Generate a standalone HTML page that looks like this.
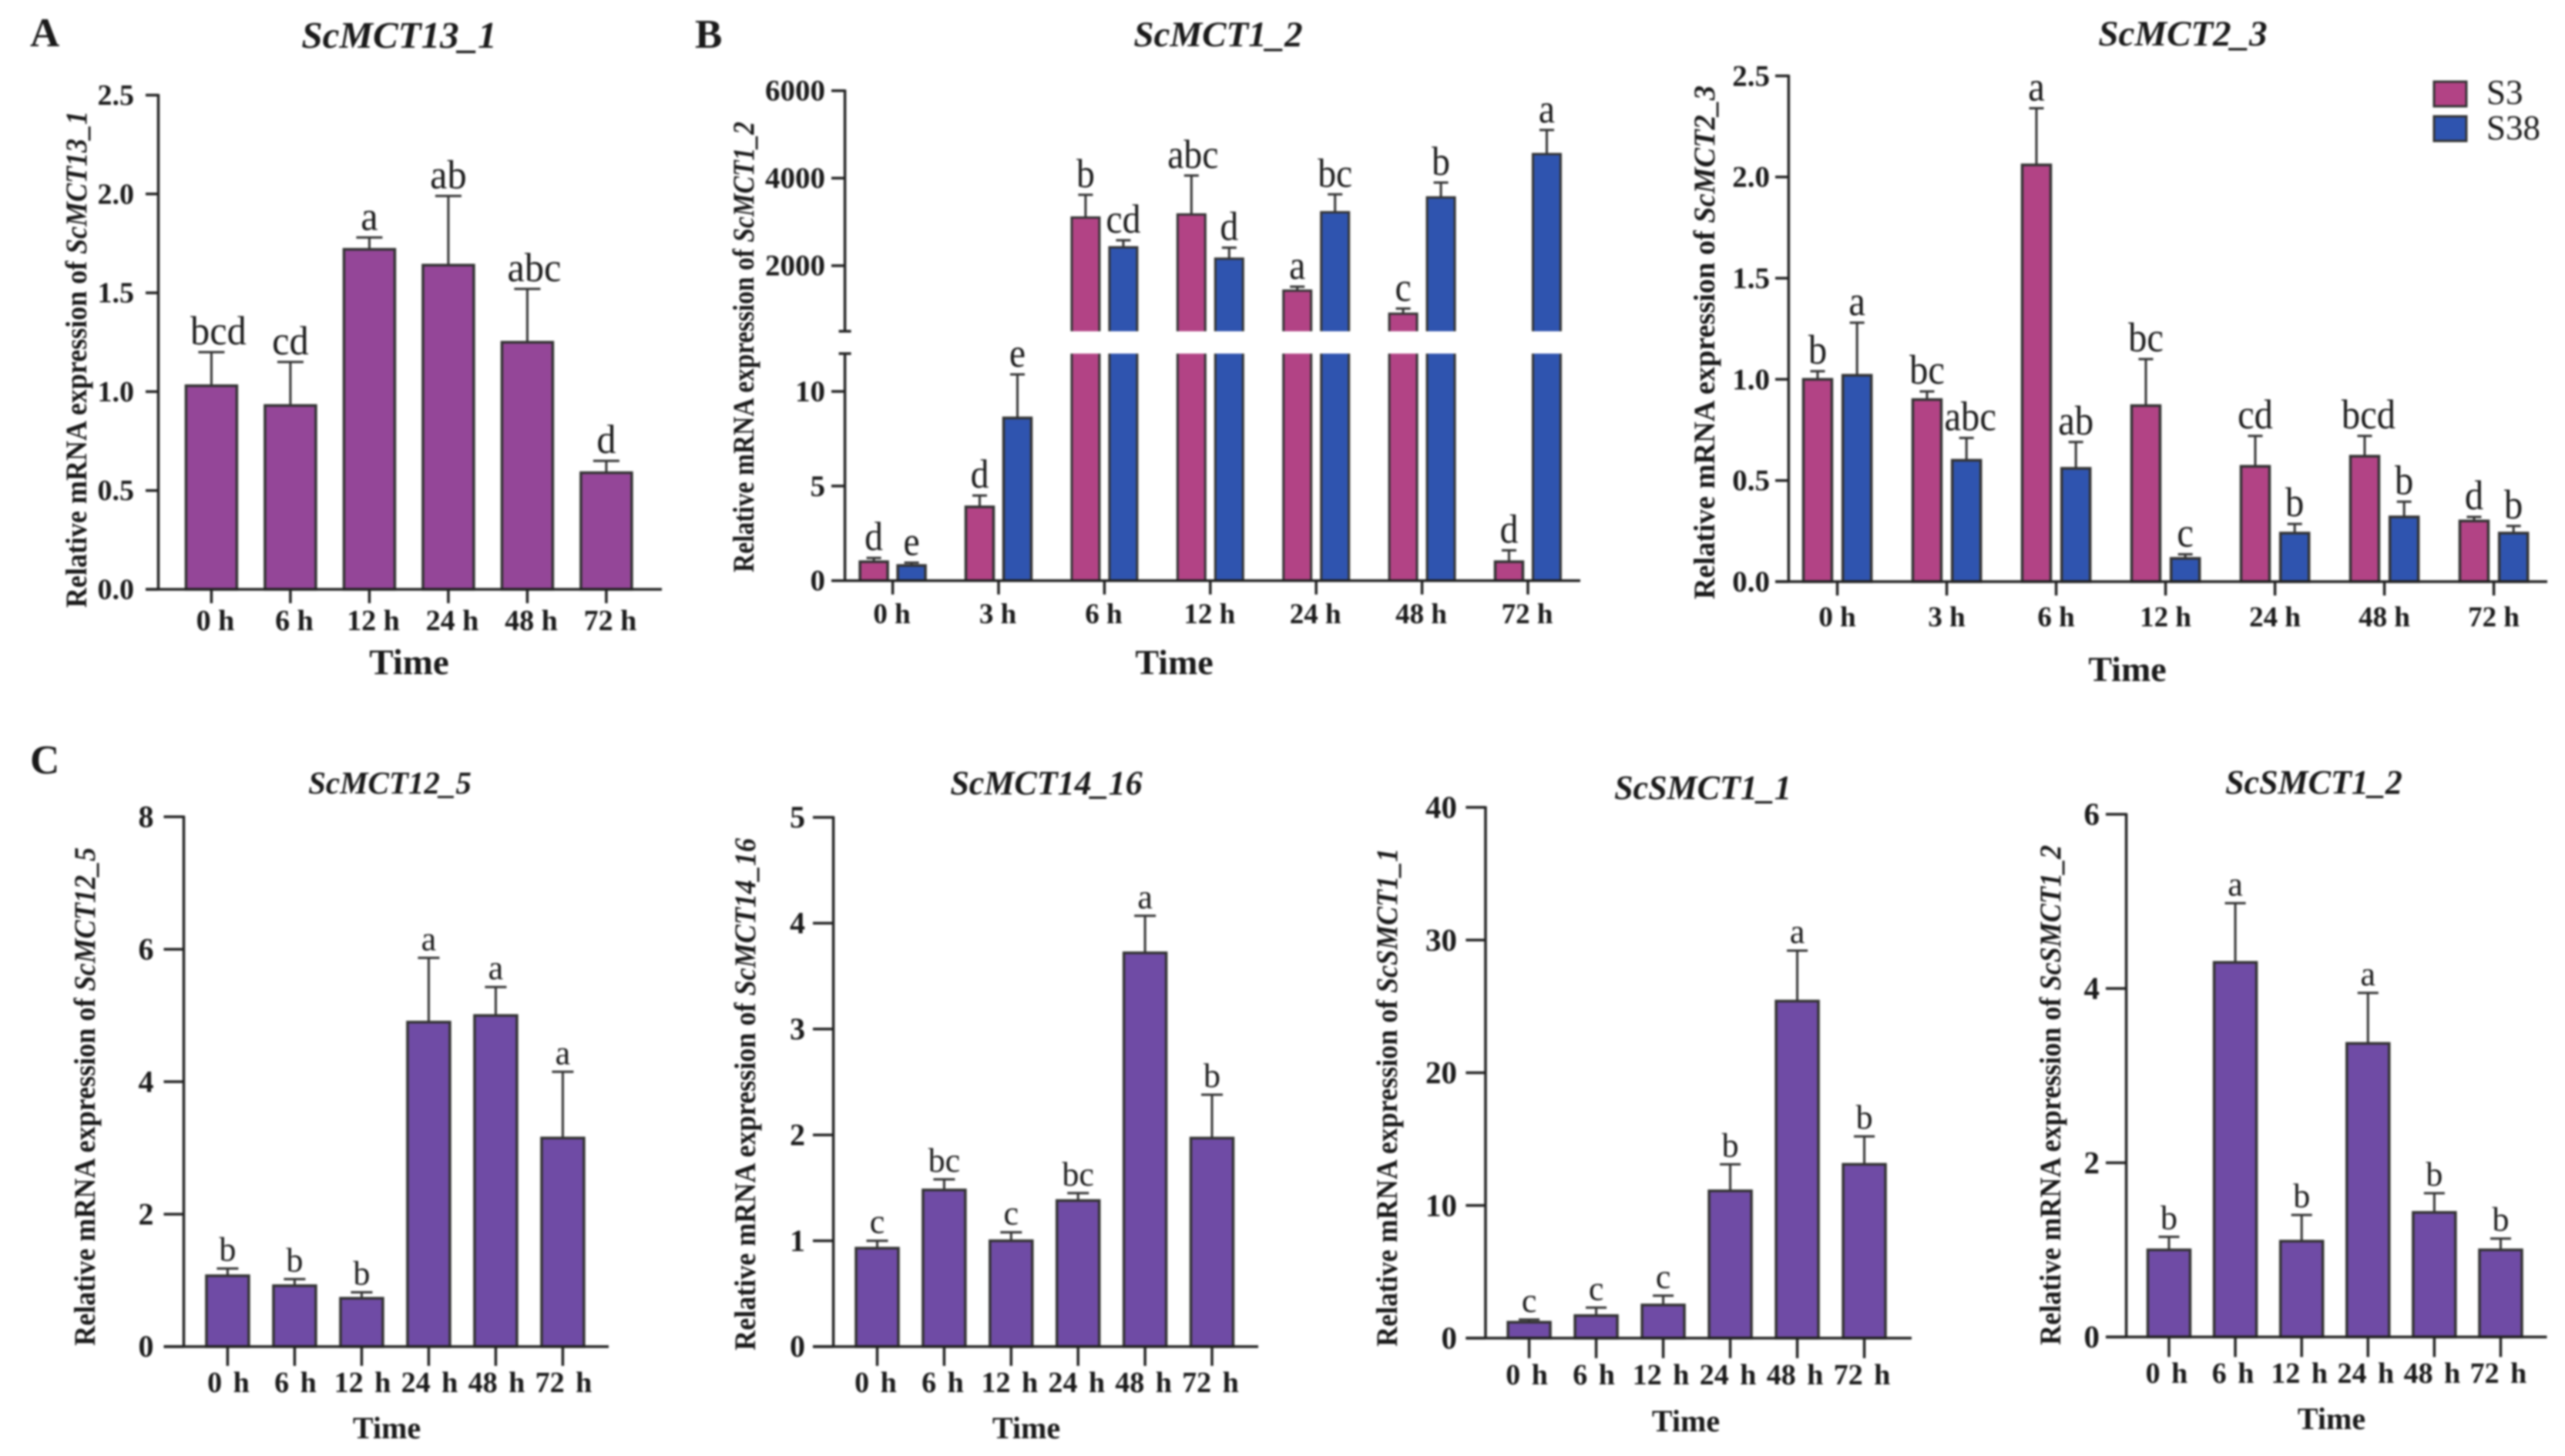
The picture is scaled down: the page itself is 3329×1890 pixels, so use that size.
<!DOCTYPE html>
<html lang="en">
<head>
<meta charset="utf-8">
<title>Relative mRNA expression of ScMCT genes</title>
<style>
html,body{margin:0;padding:0;background:#fff;width:3329px;height:1890px;overflow:hidden}
svg{display:block;filter:blur(1.4px)}
text{font-family:"Liberation Serif",serif;fill:#1a1a1a}
.panel-letter{font-weight:bold;font-size:53px}
.title{font-weight:bold;font-style:italic;text-anchor:middle}
.time{font-weight:bold;text-anchor:middle}
.ylab{font-weight:bold;font-size:39px}
.ylab tspan{font-style:italic}
</style>
</head>
<body>
<svg id="figure" xmlns="http://www.w3.org/2000/svg" width="3329" height="1890" viewBox="0 0 3329 1890">
  <rect width="3329" height="1890" fill="#fff"/>

  <text class="panel-letter" x="39" y="60">A</text>
  <text class="panel-letter" x="902" y="62">B</text>
  <text class="panel-letter" x="39" y="1004">C</text>

  <text class="title" x="518" y="62" font-size="49">ScMCT13_1</text>
  <text class="title" x="1581" y="60" font-size="47">ScMCT1_2</text>
  <text class="title" x="2833" y="59" font-size="47">ScMCT2_3</text>
  <text class="title" x="506" y="1030" font-size="41">ScMCT12_5</text>
  <text class="title" x="1358" y="1031" font-size="44">ScMCT14_16</text>
  <text class="title" x="2210" y="1037" font-size="44">ScSMCT1_1</text>
  <text class="title" x="3003" y="1030" font-size="44">ScSMCT1_2</text>

  <text class="ylab" transform="translate(112,789) rotate(-90)" textLength="645" lengthAdjust="spacingAndGlyphs">Relative mRNA expression of  <tspan>ScMCT13_1</tspan></text>
  <text class="ylab" transform="translate(978,743) rotate(-90)" textLength="585" lengthAdjust="spacingAndGlyphs">Relative mRNA expression of <tspan>ScMCT1_2</tspan></text>
  <text class="ylab" transform="translate(2225,778) rotate(-90)" textLength="667" lengthAdjust="spacingAndGlyphs">Relative mRNA expression of <tspan>ScMCT2_3</tspan></text>
  <text class="ylab" transform="translate(123,1747) rotate(-90)" textLength="647" lengthAdjust="spacingAndGlyphs">Relative mRNA expression of <tspan>ScMCT12_5</tspan></text>
  <text class="ylab" transform="translate(980,1753) rotate(-90)" textLength="665" lengthAdjust="spacingAndGlyphs">Relative mRNA expression of <tspan>ScMCT14_16</tspan></text>
  <text class="ylab" transform="translate(1813,1748) rotate(-90)" textLength="647" lengthAdjust="spacingAndGlyphs">Relative mRNA expression of <tspan>ScSMCT1_1</tspan></text>
  <text class="ylab" transform="translate(2674,1746) rotate(-90)" textLength="649" lengthAdjust="spacingAndGlyphs">Relative mRNA expression of <tspan>ScSMCT1_2</tspan></text>

  <text class="time" x="531" y="875" font-size="47">Time</text>
  <text class="time" x="1524" y="875" font-size="46">Time</text>
  <text class="time" x="2761" y="884" font-size="46">Time</text>
  <text class="time" x="502" y="1867" font-size="40">Time</text>
  <text class="time" x="1332" y="1867" font-size="40">Time</text>
  <text class="time" x="2188" y="1858" font-size="40">Time</text>
  <text class="time" x="3026" y="1855" font-size="40">Time</text>

  <g>
    <rect x="3159" y="106" width="42" height="32" fill="#B24385" stroke="#333" stroke-width="3"/>
    <text x="3227" y="135" font-size="45">S3</text>
    <rect x="3159" y="151" width="42" height="32" fill="#2F54AF" stroke="#333" stroke-width="3"/>
    <text x="3227" y="181" font-size="45">S38</text>
  </g>
</svg>

<script>
// ---- categories ----
const catsSix = ['0 h', '6 h', '12 h', '24 h', '48 h', '72 h'];
const catsSeven = ['0 h', '3 h', '6 h', '12 h', '24 h', '48 h', '72 h'];

// ---- ScMCT13_1 ----
const mct13Values = [1.03, 0.93, 1.72, 1.64, 1.25, 0.59];
const mct13ErrTops = [1.20, 1.15, 1.78, 1.99, 1.52, 0.65];
const mct13Letters = ['bcd', 'cd', 'a', 'ab', 'abc', 'd'];
const mct13Ticks = ['0.0', '0.5', '1.0', '1.5', '2.0', '2.5'];

// ---- ScMCT1_2 (broken axis) ----
const mct1S3Values = [1.0, 3.9, 3100, 3170, 1430, 900, 1.0];
const mct1S3ErrTops = [1.2, 4.5, 3620, 4060, 1520, 1020, 1.6];
const mct1S3Letters = ['d', 'd', 'b', 'abc', 'a', 'c', 'd'];
const mct1S38Values = [0.8, 8.6, 2420, 2160, 3220, 3560, 4550];
const mct1S38ErrTops = [0.95, 10.9, 2580, 2410, 3630, 3900, 5100];
const mct1S38Letters = ['e', 'e', 'cd', 'd', 'bc', 'b', 'a'];
const mct1Ticks = ['0', '5', '10', '2000', '4000', '6000'];

// ---- ScMCT2_3 ----
const mct2S3Values = [1.0, 0.9, 2.06, 0.87, 0.57, 0.62, 0.30];
const mct2S3ErrTops = [1.04, 0.94, 2.34, 1.10, 0.72, 0.72, 0.32];
const mct2S3Letters = ['b', 'bc', 'a', 'bc', 'cd', 'bcd', 'd'];
const mct2S38Values = [1.02, 0.60, 0.56, 0.115, 0.24, 0.32, 0.24];
const mct2S38ErrTops = [1.28, 0.71, 0.69, 0.135, 0.285, 0.395, 0.275];
const mct2S38Letters = ['a', 'abc', 'ab', 'c', 'b', 'b', 'b'];
const mct2Ticks = ['0.0', '0.5', '1.0', '1.5', '2.0', '2.5'];

// ---- ScMCT12_5 ----
const mct12Values = [1.07, 0.92, 0.73, 4.90, 5.00, 3.15];
const mct12ErrTops = [1.18, 1.02, 0.82, 5.87, 5.43, 4.15];
const mct12Letters = ['b', 'b', 'b', 'a', 'a', 'a'];
const mct12Ticks = ['0', '2', '4', '6', '8'];

// ---- ScMCT14_16 ----
const mct14Values = [0.93, 1.48, 1.00, 1.38, 3.72, 1.97];
const mct14ErrTops = [1.00, 1.58, 1.08, 1.45, 4.07, 2.38];
const mct14Letters = ['c', 'bc', 'c', 'bc', 'a', 'b'];
const mct14Ticks = ['0', '1', '2', '3', '4', '5'];

// ---- ScSMCT1_1 ----
const smct1Values = [1.2, 1.7, 2.5, 11.1, 25.4, 13.1];
const smct1ErrTops = [1.4, 2.3, 3.2, 13.1, 29.2, 15.2];
const smct1Letters = ['c', 'c', 'c', 'b', 'a', 'b'];
const smct1Ticks = ['0', '10', '20', '30', '40'];

// ---- ScSMCT1_2 ----
const smct2Values = [1.00, 4.30, 1.10, 3.37, 1.43, 1.00];
const smct2ErrTops = [1.15, 4.98, 1.40, 3.95, 1.65, 1.13];
const smct2Letters = ['b', 'a', 'b', 'a', 'b', 'b'];
const smct2Ticks = ['0', '2', '4', '6'];

const SVGNS = 'http://www.w3.org/2000/svg';
const figure = document.getElementById('figure');

function make(tag, parent, attrs) {
  const node = document.createElementNS(SVGNS, tag);
  for (const key in attrs) node.setAttribute(key, attrs[key]);
  parent.appendChild(node);
  return node;
}

function linear(d0, d1, r0, r1) {
  return function (v) { return r0 + (v - d0) * (r1 - r0) / (d1 - d0); };
}

function drawBar(g, x, w, v, y, base, color, brk, slug) {
  const left = x - w / 2;
  const right = x + w / 2;
  if (brk && v > brk.maxLow) {
    const upper = make('rect', g, { x: left, y: y(v), width: w, height: brk.yUpperEnd - y(v), fill: color });
    
    
    const upperEdge = make('path', g, { d: 'M' + left + ' ' + brk.yUpperEnd + 'V' + y(v) + 'H' + right + 'V' + brk.yUpperEnd, fill: 'none', stroke: '#333', 'stroke-width': 3 });
    
    
    const lower = make('rect', g, { x: left, y: brk.yLowerTop, width: w, height: base - brk.yLowerTop, fill: color });
    
    
    const lowerEdge = make('path', g, { d: 'M' + left + ' ' + brk.yLowerTop + 'V' + base + 'M' + right + ' ' + brk.yLowerTop + 'V' + base, fill: 'none', stroke: '#333', 'stroke-width': 3 });
    
    
  } else {
    const bar = make('rect', g, { x: left, y: y(v), width: w, height: base - y(v), fill: color, stroke: '#333', 'stroke-width': 3.5 });
    
    
  }
}

function drawPanel(cfg) {
  const g = make('g', figure, {});
  
  
  const xPos = function (i) { return cfg.x0 + i * cfg.step; };

  cfg.series.forEach(function (s) {
    s.values.forEach(function (v, i) {
      const slug = cfg.name + '-' + s.name + '-' + cfg.cats[i].replace(' ', '');
      const cx = xPos(i) + s.offset;
      const capY = cfg.y(s.errTops[i]);
      const stem = make('line', g, { x1: cx, x2: cx, y1: cfg.y(v), y2: capY, stroke: '#333', 'stroke-width': 3 });
      
      
      const cap = make('line', g, { x1: cx - cfg.capW / 2, x2: cx + cfg.capW / 2, y1: capY, y2: capY, stroke: '#333', 'stroke-width': 3 });
      
      
      drawBar(g, cx, cfg.barW, v, cfg.y, cfg.yBase, s.color, cfg.brk, slug);
      const word = s.letters[i];
      const nudge = word.length === 3 ? cfg.longLetterNudge : 0;
      const letter = make('text', g, { transform: 'translate(' + (cx + nudge) + ',' + (capY - 10) + ') scale(' + cfg.letterSquash + ',1)', 'text-anchor': 'middle', 'font-size': cfg.letterSize });
      letter.textContent = word;
      
      
    });
  });

  // y axis
  (cfg.brk ? [[cfg.yTop, cfg.brk.yUpperEnd], [cfg.brk.yLowerTop, cfg.yBase]] : [[cfg.yTop, cfg.yBase]]).forEach(function (seg) {
    const axis = make('line', g, { x1: cfg.axisX, x2: cfg.axisX, y1: seg[0] - 1.5, y2: seg[1] + 1.5, stroke: '#222', 'stroke-width': 3.5 });
    
    
  });
  if (cfg.brk) {
    [cfg.brk.yUpperEnd, cfg.brk.yLowerTop].forEach(function (yy) {
      const end = make('line', g, { x1: cfg.axisX - 8, x2: cfg.axisX + 8, y1: yy, y2: yy, stroke: '#222', 'stroke-width': 3.5 });
      
      
    });
  }
  cfg.ticks.forEach(function (label) {
    const ty = cfg.y(Number(label));
    const tick = make('line', g, { x1: cfg.tickLeft, x2: cfg.axisX, y1: ty, y2: ty, stroke: '#222', 'stroke-width': 3.5 });
    
    
    const text = make('text', g, { x: cfg.labelRight, y: ty + cfg.tickSize * 0.33, 'text-anchor': 'end', 'font-size': cfg.tickSize, 'font-weight': 'bold' });
    text.textContent = label;
    
    
  });

  // x axis
  const xAxis = make('line', g, { x1: cfg.tickLeft, x2: cfg.xRight, y1: cfg.yBase, y2: cfg.yBase, stroke: '#222', 'stroke-width': 3.5 });
  
  
  cfg.cats.forEach(function (cat, i) {
    const tick = make('line', g, { x1: xPos(i), x2: xPos(i), y1: cfg.yBase, y2: cfg.yBase + cfg.tickLen, stroke: '#222', 'stroke-width': 3.5 });
    
    
    const text = make('text', g, { x: xPos(i) + cfg.labelDx, y: cfg.labelBase, 'text-anchor': 'middle', 'font-size': cfg.catSize, 'font-weight': 'bold', 'word-spacing': cfg.wordSpacing });
    text.textContent = cat;
    
    
  });
}

const COL_A = '#944698';
const COL_S3 = '#B24385';
const COL_S38 = '#2F54AF';
const COL_C = '#6F4BA5';

drawPanel({
  name: 'scmct13-1', cats: catsSix, ticks: mct13Ticks,
  y: linear(0, 2.5, 765, 123.5), yTop: 123.5, yBase: 765,
  axisX: 205.5, tickLeft: 189, xRight: 859, x0: 274.4, step: 102.5, barW: 66, capW: 34,
  tickLen: 18, labelRight: 174, tickSize: 38, catSize: 38, labelBase: 818, labelDx: 5, wordSpacing: 0,
  letterSize: 53, letterSquash: 0.95, longLetterNudge: 9,
  series: [{ name: 'mean', values: mct13Values, errTops: mct13ErrTops, letters: mct13Letters, color: COL_A, offset: 0 }]
});

const yBLower = linear(0, 12, 753.7, 459);
const yBUpper = linear(500, 6000, 430, 117.7);
drawPanel({
  name: 'scmct1-2', cats: catsSeven, ticks: mct1Ticks,
  y: function (v) { return v <= 12 ? yBLower(v) : yBUpper(v); }, yTop: 117.7, yBase: 753.7,
  brk: { maxLow: 12, yUpperEnd: 430, yLowerTop: 459 },
  axisX: 1096.6, tickLeft: 1079, xRight: 2051, x0: 1158.6, step: 137.4, barW: 36, capW: 19,
  tickLen: 18, labelRight: 1071, tickSize: 39, catSize: 37, labelBase: 809, labelDx: -1, wordSpacing: 0,
  letterSize: 53, letterSquash: 0.9, longLetterNudge: 2,
  series: [
    { name: 's3', values: mct1S3Values, errTops: mct1S3ErrTops, letters: mct1S3Letters, color: COL_S3, offset: -24.5 },
    { name: 's38', values: mct1S38Values, errTops: mct1S38ErrTops, letters: mct1S38Letters, color: COL_S38, offset: 24.5 }
  ]
});

drawPanel({
  name: 'scmct2-3', cats: catsSeven, ticks: mct2Ticks,
  y: linear(0, 2.5, 755, 98.5), yTop: 98.5, yBase: 755,
  axisX: 2321.4, tickLeft: 2304, xRight: 3306, x0: 2384.6, step: 142, barW: 37, capW: 19,
  tickLen: 18, labelRight: 2297, tickSize: 39, catSize: 37, labelBase: 813, labelDx: 0, wordSpacing: 0,
  letterSize: 54, letterSquash: 0.9, longLetterNudge: 5,
  series: [
    { name: 's3', values: mct2S3Values, errTops: mct2S3ErrTops, letters: mct2S3Letters, color: COL_S3, offset: -25.6 },
    { name: 's38', values: mct2S38Values, errTops: mct2S38ErrTops, letters: mct2S38Letters, color: COL_S38, offset: 25.6 }
  ]
});

drawPanel({
  name: 'scmct12-5', cats: catsSix, ticks: mct12Ticks,
  y: linear(0, 8, 1748, 1060.3), yTop: 1060.3, yBase: 1748,
  axisX: 238.5, tickLeft: 212.5, xRight: 790, x0: 295.4, step: 87, barW: 55, capW: 28,
  tickLen: 25, labelRight: 199.5, tickSize: 40, catSize: 38, labelBase: 1807, labelDx: 1, wordSpacing: '5px',
  letterSize: 44, letterSquash: 1, longLetterNudge: 0,
  series: [{ name: 'mean', values: mct12Values, errTops: mct12ErrTops, letters: mct12Letters, color: COL_C, offset: 0 }]
});

drawPanel({
  name: 'scmct14-16', cats: catsSix, ticks: mct14Ticks,
  y: linear(0, 5, 1748, 1061), yTop: 1061, yBase: 1748,
  axisX: 1081.6, tickLeft: 1055, xRight: 1633, x0: 1138.5, step: 86.9, barW: 55, capW: 28,
  tickLen: 25, labelRight: 1045, tickSize: 40, catSize: 38, labelBase: 1807, labelDx: -2, wordSpacing: '5px',
  letterSize: 44, letterSquash: 1, longLetterNudge: 0,
  series: [{ name: 'mean', values: mct14Values, errTops: mct14ErrTops, letters: mct14Letters, color: COL_C, offset: 0 }]
});

drawPanel({
  name: 'scsmct1-1', cats: catsSix, ticks: smct1Ticks,
  y: linear(0, 40, 1737, 1048), yTop: 1048, yBase: 1737,
  axisX: 1928, tickLeft: 1902.4, xRight: 2481, x0: 1984.6, step: 87, barW: 55, capW: 27,
  tickLen: 26, labelRight: 1891, tickSize: 41, catSize: 38, labelBase: 1797, labelDx: -3, wordSpacing: '5px',
  letterSize: 44, letterSquash: 1, longLetterNudge: 0,
  series: [{ name: 'mean', values: smct1Values, errTops: smct1ErrTops, letters: smct1Letters, color: COL_C, offset: 0 }]
});

drawPanel({
  name: 'scsmct1-2', cats: catsSix, ticks: smct2Ticks,
  y: linear(0, 6, 1735.5, 1057), yTop: 1057, yBase: 1735.5,
  axisX: 2759.6, tickLeft: 2733, xRight: 3305.5, x0: 2815, step: 86.1, barW: 55, capW: 27,
  tickLen: 26, labelRight: 2725, tickSize: 41, catSize: 38, labelBase: 1795, labelDx: -3, wordSpacing: '5px',
  letterSize: 44, letterSquash: 1, longLetterNudge: 0,
  series: [{ name: 'mean', values: smct2Values, errTops: smct2ErrTops, letters: smct2Letters, color: COL_C, offset: 0 }]
});
</script>
</body>
</html>
